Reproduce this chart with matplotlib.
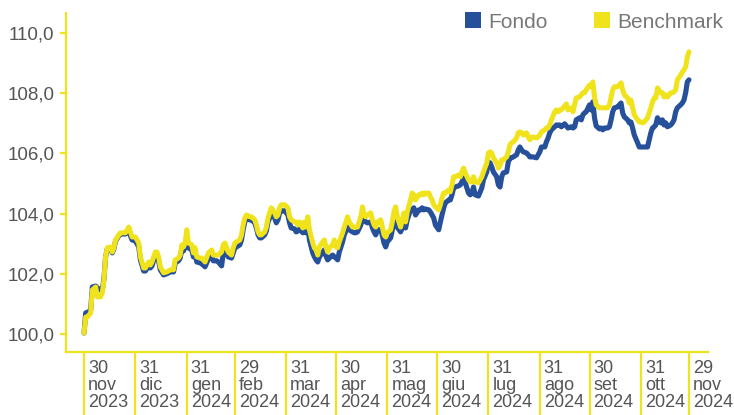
import matplotlib
matplotlib.use('Agg')
import matplotlib.pyplot as plt
import matplotlib.transforms as mtransforms
from matplotlib.patches import Patch
import pandas as pd

plt.rcParams['font.family'] = ['Liberation Sans', 'DejaVu Sans']

# giorni dal 30/11/2023
days = [0, 1, 2, 4, 5, 7, 8, 10, 11, 12, 13, 14, 16, 17, 18, 19, 21, 22, 25, 27,
        28, 29, 31, 33, 34, 36, 37, 39, 40, 41, 43, 44, 45, 46, 48, 50, 52, 54, 55, 57,
        58, 59, 60, 61, 62, 63, 65, 66, 67, 68, 70, 71, 73, 75, 77, 78, 80, 81, 83, 84,
        85, 86, 87, 89, 90, 91, 92, 94, 95, 96, 97, 98, 100, 101, 103, 104, 105, 106, 107, 109,
        110, 111, 112, 113, 115, 116, 117, 118, 119, 121, 123, 124, 125, 127, 128, 129, 130, 132, 133, 134,
        135, 136, 138, 139, 140, 141, 142, 144, 145, 146, 147, 148, 150, 151, 152, 153, 154, 156, 157, 158,
        159, 160, 162, 163, 164, 165, 167, 168, 169, 170, 171, 173, 174, 175, 176, 177, 179, 180, 181, 182,
        183, 185, 186, 187, 188, 189, 191, 192, 193, 194, 195, 197, 198, 199, 200, 202, 203, 204, 205, 206,
        208, 209, 210, 211, 212, 214, 215, 216, 217, 218, 220, 221, 222, 223, 224, 226, 227, 228, 229, 230,
        232, 233, 234, 235, 236, 238, 239, 240, 241, 243, 244, 245, 246, 247, 249, 250, 251, 252, 253, 255,
        256, 257, 258, 259, 261, 262, 263, 264, 265, 267, 268, 269, 270, 271, 273, 274, 275, 276, 278, 279,
        280, 281, 282, 284, 285, 286, 287, 288, 290, 291, 292, 294, 295, 296, 297, 299, 300, 301, 302, 303,
        305, 306, 307, 308, 309, 311, 312, 313, 314, 316, 317, 318, 319, 320, 322, 323, 324, 325, 326, 328,
        329, 330, 331, 332, 334, 335, 336, 337, 338, 340, 341, 342, 343, 344, 345, 346, 348, 349, 350, 351,
        352, 354, 355, 356, 357, 358, 360, 361, 362, 363, 364, 365]

benchmark = [100.03, 100.56, 100.56, 100.70, 101.46, 101.56, 101.23, 101.23, 101.36, 101.79,
             102.56, 102.86, 102.89, 102.72, 102.86, 103.12, 103.29, 103.36, 103.36, 103.55,
             103.39, 103.22, 103.22, 103.02, 102.56, 102.19, 102.19, 102.39, 102.29, 102.39,
             102.72, 102.72, 102.56, 102.23, 102.03, 102.06, 102.13, 102.13, 102.46, 102.52,
             102.62, 102.96, 102.89, 103.02, 103.46, 103.02, 102.96, 102.69, 102.86, 102.56,
             102.52, 102.52, 102.39, 102.69, 102.79, 102.62, 102.62, 102.62, 102.72, 102.96,
             103.02, 102.86, 102.72, 102.62, 102.86, 103.02, 103.06, 103.12, 103.29, 103.62,
             103.85, 103.95, 103.89, 103.89, 103.79, 103.62, 103.39, 103.29, 103.29, 103.39,
             103.55, 103.85, 104.02, 104.19, 104.02, 103.89, 103.95, 104.19, 104.29, 104.29,
             104.19, 103.89, 103.79, 103.72, 103.72, 103.62, 103.72, 103.52, 103.72, 103.55,
             103.89, 103.46, 103.02, 102.86, 102.79, 102.62, 102.89, 103.06, 103.12, 102.89,
             102.72, 102.86, 102.96, 103.12, 102.89, 102.86, 103.06, 103.36, 103.55, 103.72,
             103.89, 103.72, 103.55, 103.55, 103.55, 103.55, 103.89, 104.22, 103.95, 103.89,
             103.95, 104.02, 103.79, 103.62, 103.55, 103.72, 103.79, 103.55, 103.29, 103.22,
             103.36, 103.46, 103.72, 104.05, 104.22, 103.89, 103.55, 103.79, 104.02, 103.72,
             104.05, 104.45, 104.68, 104.62, 104.45, 104.62, 104.62, 104.68, 104.62, 104.68,
             104.68, 104.55, 104.45, 104.29, 104.22, 104.12, 104.29, 104.52, 104.68, 104.68,
             104.78, 104.72, 104.95, 105.22, 105.22, 105.28, 105.22, 105.38, 105.51, 105.35,
             105.12, 105.05, 105.05, 105.22, 105.05, 105.02, 105.12, 105.22, 105.38, 105.68,
             106.01, 106.05, 106.01, 105.85, 105.68, 105.51, 105.61, 105.78, 105.78, 105.88,
             106.05, 106.28, 106.35, 106.38, 106.51, 106.68, 106.71, 106.68, 106.61, 106.68,
             106.54, 106.45, 106.54, 106.54, 106.51, 106.54, 106.61, 106.71, 106.78, 106.84,
             106.84, 106.94, 107.11, 107.38, 107.44, 107.38, 107.44, 107.44, 107.57, 107.64,
             107.44, 107.51, 107.38, 107.61, 107.84, 107.87, 107.94, 108.01, 108.01, 108.11,
             108.27, 108.21, 108.37, 107.87, 107.61, 107.51, 107.51, 107.51, 107.51, 107.51,
             107.61, 107.87, 108.11, 108.21, 108.21, 108.27, 108.34, 108.11, 107.94, 107.84,
             107.67, 107.77, 107.51, 107.28, 107.11, 107.04, 107.04, 107.01, 107.04, 107.18,
             107.34, 107.51, 107.71, 107.84, 107.84, 108.17, 108.01, 108.01, 107.87, 107.94,
             107.87, 108.01, 108.01, 108.04, 108.11, 108.44, 108.60, 108.70, 108.77, 108.87,
             109.20, 109.37]

fondo = [100.03, 100.70, 100.70, 100.80, 101.56, 101.59, 101.53, 101.46, 101.46, 101.83,
         102.56, 102.82, 102.86, 102.69, 102.82, 103.09, 103.26, 103.32, 103.32, 103.46,
         103.26, 103.12, 103.09, 102.89, 102.46, 102.09, 102.09, 102.26, 102.19, 102.26,
         102.62, 102.59, 102.43, 102.13, 101.96, 102.00, 102.06, 102.06, 102.36, 102.43,
         102.52, 102.82, 102.76, 102.89, 103.26, 102.86, 102.79, 102.56, 102.69, 102.39,
         102.36, 102.33, 102.23, 102.49, 102.59, 102.43, 102.43, 102.39, 102.26, 102.69,
         102.82, 102.69, 102.56, 102.52, 102.69, 102.86, 102.89, 102.96, 103.12, 103.46,
         103.72, 103.82, 103.79, 103.79, 103.69, 103.52, 103.29, 103.19, 103.19, 103.29,
         103.42, 103.72, 103.85, 104.02, 103.85, 103.69, 103.79, 104.02, 104.09, 104.09,
         103.95, 103.69, 103.52, 103.49, 103.39, 103.42, 103.49, 103.36, 103.49, 103.36,
         103.59, 103.12, 102.69, 102.56, 102.46, 102.39, 102.56, 102.72, 102.79, 102.59,
         102.46, 102.52, 102.62, 102.56, 102.52, 102.46, 102.72, 103.06, 103.29, 103.42,
         103.55, 103.46, 103.39, 103.36, 103.36, 103.39, 103.62, 103.89, 103.79, 103.72,
         103.69, 103.72, 103.52, 103.39, 103.29, 103.46, 103.46, 103.26, 103.02, 102.89,
         103.06, 103.19, 103.46, 103.72, 103.89, 103.55, 103.39, 103.52, 103.72, 103.52,
         103.79, 104.12, 104.12, 104.19, 103.95, 104.12, 104.12, 104.19, 104.12, 104.15,
         104.12, 104.05, 103.95, 103.85, 103.62, 103.46, 103.72, 103.95, 104.19, 104.35,
         104.45, 104.45, 104.62, 104.85, 104.88, 104.92, 104.95, 105.05, 105.18, 105.02,
         104.68, 104.62, 104.68, 104.88, 104.62, 104.58, 104.72, 104.85, 105.12, 105.38,
         105.71, 105.68, 105.55, 105.38, 105.22, 104.95, 104.88, 105.22, 105.35, 105.38,
         105.71, 105.85, 105.85, 105.88, 105.95, 106.11, 106.21, 106.11, 106.05, 106.01,
         105.95, 105.88, 105.88, 105.88, 105.85, 105.95, 106.05, 106.21, 106.21, 106.38,
         106.51, 106.68, 106.78, 106.88, 106.94, 106.94, 106.94, 106.88, 106.98, 106.91,
         106.84, 106.88, 106.84, 106.88, 107.11, 107.18, 107.11, 107.28, 107.34, 107.38,
         107.61, 107.44, 107.71, 107.18, 106.91, 106.81, 106.84, 106.78, 106.84, 106.84,
         106.88, 107.11, 107.38, 107.51, 107.54, 107.61, 107.67, 107.34, 107.21, 107.11,
         107.01, 107.04, 106.84, 106.61, 106.35, 106.21, 106.21, 106.21, 106.21, 106.21,
         106.45, 106.68, 106.84, 106.88, 106.94, 107.18, 107.01, 107.11, 106.94, 107.01,
         106.88, 106.94, 107.01, 107.11, 107.38, 107.51, 107.61, 107.67, 107.77, 108.01,
         108.37, 108.44]

tick_dates = ['2023-11-30', '2023-12-31', '2024-01-31', '2024-02-29', '2024-03-31',
              '2024-04-30', '2024-05-31', '2024-06-30', '2024-07-31', '2024-08-31',
              '2024-09-30', '2024-10-31', '2024-11-29']
tick_labels = ['30\nnov\n2023', '31\ndic\n2023', '31\ngen\n2024', '29\nfeb\n2024',
               '31\nmar\n2024', '30\napr\n2024', '31\nmag\n2024', '30\ngiu\n2024',
               '31\nlug\n2024', '31\nago\n2024', '30\nset\n2024', '31\nott\n2024',
               '29\nnov\n2024']
y_ticks = [100, 102, 104, 106, 108, 110]

start = pd.Timestamp('2023-11-30')
dates = start + pd.to_timedelta(days, unit='D')
ticks = pd.to_datetime(tick_dates)

YELLOW = '#f0e31c'
BLUE = '#27509b'
GREY = '#555555'

fig = plt.figure(figsize=(7.34, 4.15), dpi=100)
ax = fig.add_axes([0.0899, 0.1518, 0.8747, 0.8169])

ax.plot(dates, fondo, color=BLUE, lw=3.7, solid_joinstyle='round',
        solid_capstyle='round', zorder=2)
ax.plot(dates, benchmark, color=YELLOW, lw=3.6, solid_joinstyle='round',
        solid_capstyle='round', zorder=3)

ax.set_xlim(start - pd.Timedelta(days=10.9), start + pd.Timedelta(days=376.5))
ax.set_ylim(99.4, 110.66)

for s in ['top', 'right']:
    ax.spines[s].set_visible(False)
for s in ['left', 'bottom']:
    ax.spines[s].set_color(YELLOW)
    ax.spines[s].set_linewidth(1.6)

ax.set_yticks(y_ticks)
ax.set_yticklabels([f'{v:.1f}'.replace('.', ',') for v in y_ticks])
ax.tick_params(axis='y', direction='out', length=4.3, width=1.6, color=YELLOW,
               labelsize=13.5, labelcolor=GREY, pad=4)

# separatori verticali sotto l'asse
ax.set_xticks(ticks)
ax.set_xticklabels([])
ax.tick_params(axis='x', direction='out', length=46, width=1.6, color=YELLOW)

trans = mtransforms.blended_transform_factory(ax.transData, ax.transAxes)
trans = mtransforms.offset_copy(trans, fig=fig, x=4, y=-8, units='dots')
for d, lab in zip(ticks, tick_labels):
    ax.text(d, 0, lab, transform=trans, ha='left', va='top', fontsize=13,
            color=GREY, linespacing=1.0)

handles = [Patch(facecolor=BLUE, edgecolor='none', label='Fondo'),
           Patch(facecolor=YELLOW, edgecolor='none', label='Benchmark')]
leg = fig.legend(handles=handles, loc='center right', bbox_to_anchor=(0.986, 0.947),
                 ncol=2, frameon=False, fontsize=15, handlelength=0.77, handleheight=0.77,
                 handletextpad=0.38, columnspacing=2.2, borderpad=0, borderaxespad=0)
for t in leg.get_texts():
    t.set_color('#777777')

fig.savefig('out.png', dpi=100)
